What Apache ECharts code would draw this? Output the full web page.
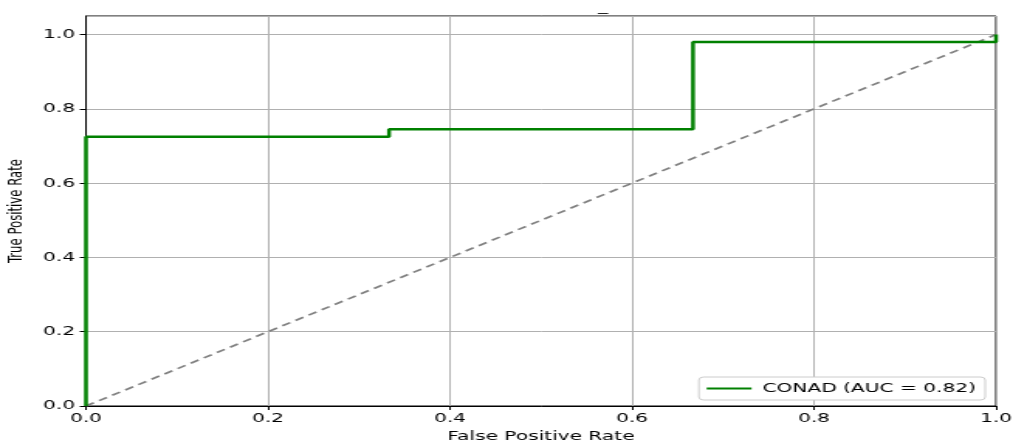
<!DOCTYPE html>
<html><head><meta charset="utf-8">
<script src="https://cdn.jsdelivr.net/npm/echarts@6/dist/echarts.min.js"></script>
<style>
html,body{margin:0;padding:0;background:#fff;overflow:hidden}
#wrap{width:1013px;height:444px;overflow:hidden}
#c{width:654px;height:444px;transform:scaleX(1.549);transform-origin:0 0}
</style>
</head><body><div id="wrap"><div id="c"></div></div>
<script>
const fpr = [0, 0, 0.333, 0.333, 0.667, 0.667, 1, 1];
const tpr = [0, 0.725, 0.725, 0.745, 0.745, 0.98, 0.98, 1.0];
const diagX = [0, 1];
const diagY = [0, 1];
const xTicks = [0, 0.2, 0.4, 0.6, 0.8, 1.0];
const seriesName = 'CONAD (AUC = 0.82)';

const chart = echarts.init(document.getElementById('c'));
const font = 'DejaVu Sans';
chart.setOption({
  animation: false,
  title: { text: '_', left: 381, top: -4, textStyle: { fontSize: 13, fontWeight: 'normal', color: '#000', fontFamily: font } },
  grid: { left: 55.5, right: 11, top: 16, bottom: 38, show: true, borderColor: '#000', borderWidth: 1,
          containLabel: false, outerBoundsMode: 'none' },
  legend: {
    data: [seriesName], right: 18, bottom: 44, orient: 'horizontal',
    backgroundColor: '#fff', borderColor: '#ccc', borderWidth: 1, borderRadius: 3,
    padding: [5, 6, 5, 5], itemWidth: 29, itemHeight: 2, itemGap: 10,
    icon: 'rect',
    textStyle: { fontSize: 13, fontFamily: font, color: '#000', padding: [0, 0, 0, 2] }
  },
  xAxis: {
    type: 'value', min: 0, max: 1, interval: 0.2,
    name: 'False Positive Rate', nameLocation: 'middle', nameGap: 24,
    nameTextStyle: { fontSize: 13, fontFamily: font, color: '#000' },
    axisLine: { show: true, lineStyle: { color: '#000' } },
    axisTick: { show: true, length: 4, lineStyle: { color: '#000' } },
    axisLabel: { fontSize: 13, fontFamily: font, color: '#000', margin: 6, formatter: v => v.toFixed(1) },
    splitLine: { show: true, lineStyle: { color: '#b0b0b0', width: 1 } }
  },
  yAxis: {
    type: 'value', min: 0, max: 1.05, interval: 0.2,
    name: 'True Positive Rate', nameLocation: 'middle', nameGap: 35, nameRotate: 90,
    nameTextStyle: { fontSize: 13, fontFamily: 'DejaVu Sans Condensed', color: '#000' },
    axisLine: { show: true, lineStyle: { color: '#000' } },
    axisTick: { show: true, length: 4, lineStyle: { color: '#000' } },
    axisLabel: { fontSize: 13, fontFamily: font, color: '#000', margin: 7, showMaxLabel: false,
      formatter: v => (Math.abs(v * 5 - Math.round(v * 5)) < 1e-6 ? v.toFixed(1) : '') },
    splitLine: { show: true, lineStyle: { color: '#b0b0b0', width: 1 } }
  },
  series: [
    {
      name: seriesName, type: 'line', showSymbol: false, symbol: 'none',
      data: fpr.map((x, i) => [x, tpr[i]]),
      lineStyle: { color: '#008000', width: 2.5 }, itemStyle: { color: '#008000' }, z: 3
    },
    {
      name: 'diag', type: 'line', showSymbol: false, symbol: 'none',
      data: diagX.map((x, i) => [x, diagY[i]]),
      lineStyle: { color: '#808080', width: 1.7, type: [6, 4] }, z: 2
    }
  ]
});
</script></body></html>
